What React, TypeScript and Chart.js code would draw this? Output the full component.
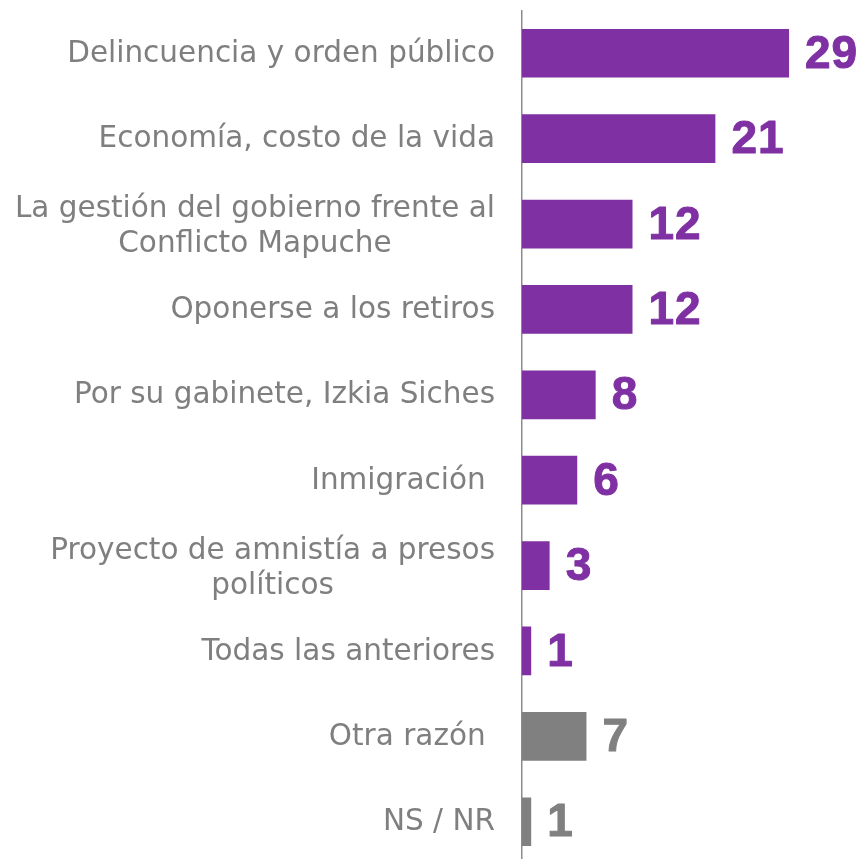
import React, { useEffect, useRef } from "react";
import { Chart, registerables } from "chart.js";

Chart.register(...registerables);

const categories: (string | string[])[] = [
  "Delincuencia y orden público",
  "Economía, costo de la vida",
  ["La gestión del gobierno frente al", "Conflicto Mapuche"],
  "Oponerse a los retiros",
  "Por su gabinete, Izkia Siches",
  "Inmigración ",
  ["Proyecto de amnistía a presos", "políticos"],
  "Todas las anteriores",
  "Otra razón ",
  "NS / NR",
];

const values: number[] = [29, 21, 12, 12, 8, 6, 3, 1, 7, 1];

const PURPLE = "#7f30a3";
const GRAY = "#808080";
const barColors: string[] = [
  PURPLE, PURPLE, PURPLE, PURPLE, PURPLE, PURPLE, PURPLE, PURPLE, GRAY, GRAY,
];

const LABEL_FONT = '29.5px "DejaVu Sans"';
const VALUE_FONT = 'bold 46px "Liberation Sans"';
const LABEL_COLOR = "#7f7f7f";

const labelPlugin = {
  id: "customLabels",
  afterDatasetsDraw(chart: any) {
    const ctx = chart.ctx;
    const meta = chart.getDatasetMeta(0);
    const yScale = chart.scales.y;
    const left = chart.chartArea.left;
    ctx.save();
    // value labels
    ctx.font = VALUE_FONT;
    ctx.textBaseline = "middle";
    ctx.textAlign = "left";
    ctx.lineJoin = "round";
    ctx.lineWidth = 1;
    try {
      (ctx as any).letterSpacing = "1px";
    } catch (e) {}
    meta.data.forEach((bar: any, i: number) => {
      ctx.fillStyle = barColors[i];
      ctx.strokeStyle = barColors[i];
      ctx.fillText(String(values[i]), bar.x + 16, bar.y + 2);
      ctx.strokeText(String(values[i]), bar.x + 16, bar.y + 2);
    });
    try {
      (ctx as any).letterSpacing = "0px";
    } catch (e) {}
    // category labels
    ctx.font = LABEL_FONT;
    ctx.fillStyle = LABEL_COLOR;
    ctx.textAlign = "center";
    const rightEdge = left - 27;
    const lineH = 35;
    categories.forEach((cat, i) => {
      const lines = Array.isArray(cat) ? cat : [cat];
      const y = yScale.getPixelForValue(i) + 1;
      const maxW = Math.max(...lines.map((l) => ctx.measureText(l).width));
      const cx = rightEdge - maxW / 2;
      const startY = y - ((lines.length - 1) * lineH) / 2 + (lines.length > 1 ? 2 : 0);
      lines.forEach((l, j) => {
        ctx.fillText(l, cx, startY + j * lineH);
      });
    });
    ctx.restore();
  },
};

export default function App() {
  const ref = useRef<HTMLCanvasElement | null>(null);
  useEffect(() => {
    document.body.style.margin = "0";
    const canvas = ref.current!;
    const chart = new Chart(canvas, {
      type: "bar",
      data: {
        labels: categories.map((c) => (Array.isArray(c) ? c.join(" ") : c)),
        datasets: [
          {
            data: values,
            backgroundColor: barColors,
            borderWidth: 0,
            barPercentage: 0.57,
            categoryPercentage: 1,
          },
        ],
      },
      options: {
        indexAxis: "y",
        responsive: false,
        animation: false,
        layout: { padding: { top: 10.6, bottom: 0.6, right: 7.5, left: 0 } },
        plugins: {
          legend: { display: false },
          tooltip: { enabled: false },
        },
        scales: {
          x: {
            display: false,
            min: 0,
            max: 36,
          },
          y: {
            display: true,
            grid: { display: false },
            border: { display: true, color: "#8c8c8c", width: 1.5 },
            ticks: { display: false },
            afterFit: (scale: any) => {
              scale.width = 522;
            },
          },
        },
      },
      plugins: [labelPlugin],
    });
    return () => chart.destroy();
  }, []);
  return (
    <div style={{ width: 861, height: 859, overflow: "hidden", background: "#fff" }}>
      <canvas ref={ref} width={861} height={865} style={{ display: "block" }} />
    </div>
  );
}
